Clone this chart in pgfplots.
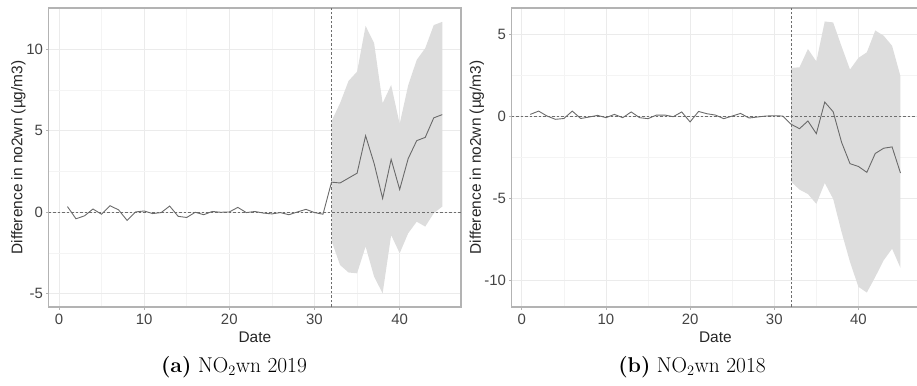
\documentclass[border=0pt]{standalone}
\usepackage{pgfplots}
\pgfplotsset{compat=1.18}
\usepackage{fontspec}
\newfontfamily\lib{Liberation Sans}
\definecolor{bandc}{HTML}{DDDDDD}
\definecolor{linec}{HTML}{6A6A6A}
\definecolor{dashc}{HTML}{6E6E6E}
\definecolor{borderc}{HTML}{B3B3B3}
\definecolor{gridmaj}{HTML}{EBEBEB}
\definecolor{gridmin}{HTML}{F4F4F4}
\definecolor{tickc}{HTML}{444444}
\pgfplotsset{
  panel/.style={
    scale only axis,
    anchor=south west,
    height=299bp,
    xmin=-1.2, xmax=47.2,
    xtick={0,10,20,30,40},
    minor x tick num=1,
    minor y tick num=1,
    grid=both,
    major grid style={gridmaj, line width=0.8bp},
    minor grid style={gridmin, line width=0.6bp},
    axis line style={borderc, line width=1.3bp},
    xtick pos=left, ytick pos=left,
    tick align=outside,
    major tick length=2.5bp,
    minor tick length=0pt,
    every tick/.style={borderc, line width=0.8bp},
    /pgf/number format/assume math mode=true,
    tick label style={font=\lib\fontsize{15}{18}\selectfont, text=tickc},
    xticklabel style={inner sep=0pt, anchor=north, yshift=-4.5bp},
    yticklabel style={inner sep=0pt, anchor=east, xshift=-3bp},
    label style={font=\lib\fontsize{15.5}{18}\selectfont, text=black!85},
    xlabel={Date},
    ylabel={Difference in no2wn (µg/m3)},
    clip=true,
  }
}
\begin{document}
\begin{tikzpicture}
\path[use as bounding box] (0,0) rectangle (917bp,386bp);
% ---------------- panel (a)
\begin{axis}[panel,
  at={(48.7bp,79bp)}, width=412.3bp,
  ymin=-5.82, ymax=12.55,
  ytick={-5,0,5,10},
  xlabel style={at={(axis description cs:0.5,-0.1003)}, anchor=center},
  ylabel style={at={(axis description cs:-0.0733,0.5)}, anchor=center, rotate=0},
]
\addplot[fill=bandc, draw=none] coordinates {
 (32,5.6) (33,6.7) (34,8.07) (35,8.64) (36,11.45) (37,10.39) (38,6.7) (39,7.82) (40,5.43) (41,7.8) (42,9.36) (43,10.08) (44,11.5) (45,11.7)
 (45,0.35) (44,-0.06) (43,-0.88) (42,-0.58) (41,-1.29) (40,-2.52) (39,-1.4) (38,-4.98) (37,-3.96) (36,-2.1) (35,-3.75) (34,-3.7) (33,-3.24) (32,-1.75)
} --cycle;
\addplot[dashc, dash pattern=on 2.5bp off 2bp, line width=0.9bp] coordinates {(-1.2,0) (47.2,0)};
\addplot[dashc, dash pattern=on 2.5bp off 2bp, line width=0.9bp] coordinates {(32,-5.82) (32,12.55)};
\addplot[linec, line width=0.9bp] coordinates {
 (1,0.35) (2,-0.4) (3,-0.22) (4,0.2) (5,-0.12) (6,0.4) (7,0.15) (8,-0.5) (9,0.02) (10,0.08)
 (11,-0.08) (12,-0.02) (13,0.38) (14,-0.25) (15,-0.32) (16,0) (17,-0.15) (18,0.05) (19,0) (20,0.02)
 (21,0.3) (22,-0.02) (23,0.05) (24,-0.05) (25,-0.1) (26,-0.02) (27,-0.15) (28,0.02) (29,0.18) (30,-0.02)
 (31,-0.12) (32,1.85) (33,1.8) (34,2.1) (35,2.4) (36,4.7) (37,3.0) (38,0.85) (39,3.25) (40,1.4)
 (41,3.3) (42,4.4) (43,4.6) (44,5.8) (45,6.0)
};
\end{axis}
% ---------------- panel (b)
\begin{axis}[panel,
  at={(511.7bp,79bp)}, width=407.3bp,
  ymin=-11.63, ymax=6.58,
  ytick={-10,-5,0,5},
  xlabel style={at={(axis description cs:0.5,-0.1003)}, anchor=center},
  ylabel style={at={(axis description cs:-0.0852,0.5)}, anchor=center, rotate=0},
]
\addplot[fill=bandc, draw=none] coordinates {
 (32,2.93) (33,2.97) (34,4.08) (35,3.33) (36,5.76) (37,5.7) (38,4.24) (39,2.83) (40,3.54) (41,3.88) (42,5.21) (43,4.89) (44,4.28) (45,2.42)
 (45,-9.25) (44,-8.08) (43,-8.79) (42,-9.8) (41,-10.75) (40,-10.4) (39,-8.89) (38,-7.07) (37,-5.05) (36,-4.08) (35,-5.35) (34,-4.75) (33,-4.48) (32,-4.0)
} --cycle;
\addplot[dashc, dash pattern=on 2.5bp off 2bp, line width=0.9bp] coordinates {(-1.2,0) (47.2,0)};
\addplot[dashc, dash pattern=on 2.5bp off 2bp, line width=0.9bp] coordinates {(32,-11.63) (32,6.58)};
\addplot[linec, line width=0.9bp] coordinates {
 (1,0.1) (2,0.3) (3,0) (4,-0.2) (5,-0.15) (6,0.3) (7,-0.15) (8,-0.06) (9,0.04) (10,-0.1)
 (11,0.1) (12,-0.1) (13,0.25) (14,-0.1) (15,-0.16) (16,0.06) (17,0.06) (18,-0.04) (19,0.25) (20,-0.36)
 (21,0.28) (22,0.14) (23,0.06) (24,-0.16) (25,0) (26,0.16) (27,-0.12) (28,-0.06) (29,0) (30,0.02)
 (31,0) (32,-0.5) (33,-0.77) (34,-0.3) (35,-1.07) (36,0.85) (37,0.26) (38,-1.6) (39,-2.9) (40,-3.07)
 (41,-3.43) (42,-2.28) (43,-1.96) (44,-1.88) (45,-3.47)
};
\end{axis}
% ---------------- captions
\node[font=\fontsize{21.5}{25}\selectfont, anchor=center] at (234bp,19bp) {\textbf{(a)} NO$_2$wn 2019};
\node[font=\fontsize{21.5}{25}\selectfont, anchor=center] at (692bp,19bp) {\textbf{(b)} NO$_2$wn 2018};
\end{tikzpicture}
\end{document}
